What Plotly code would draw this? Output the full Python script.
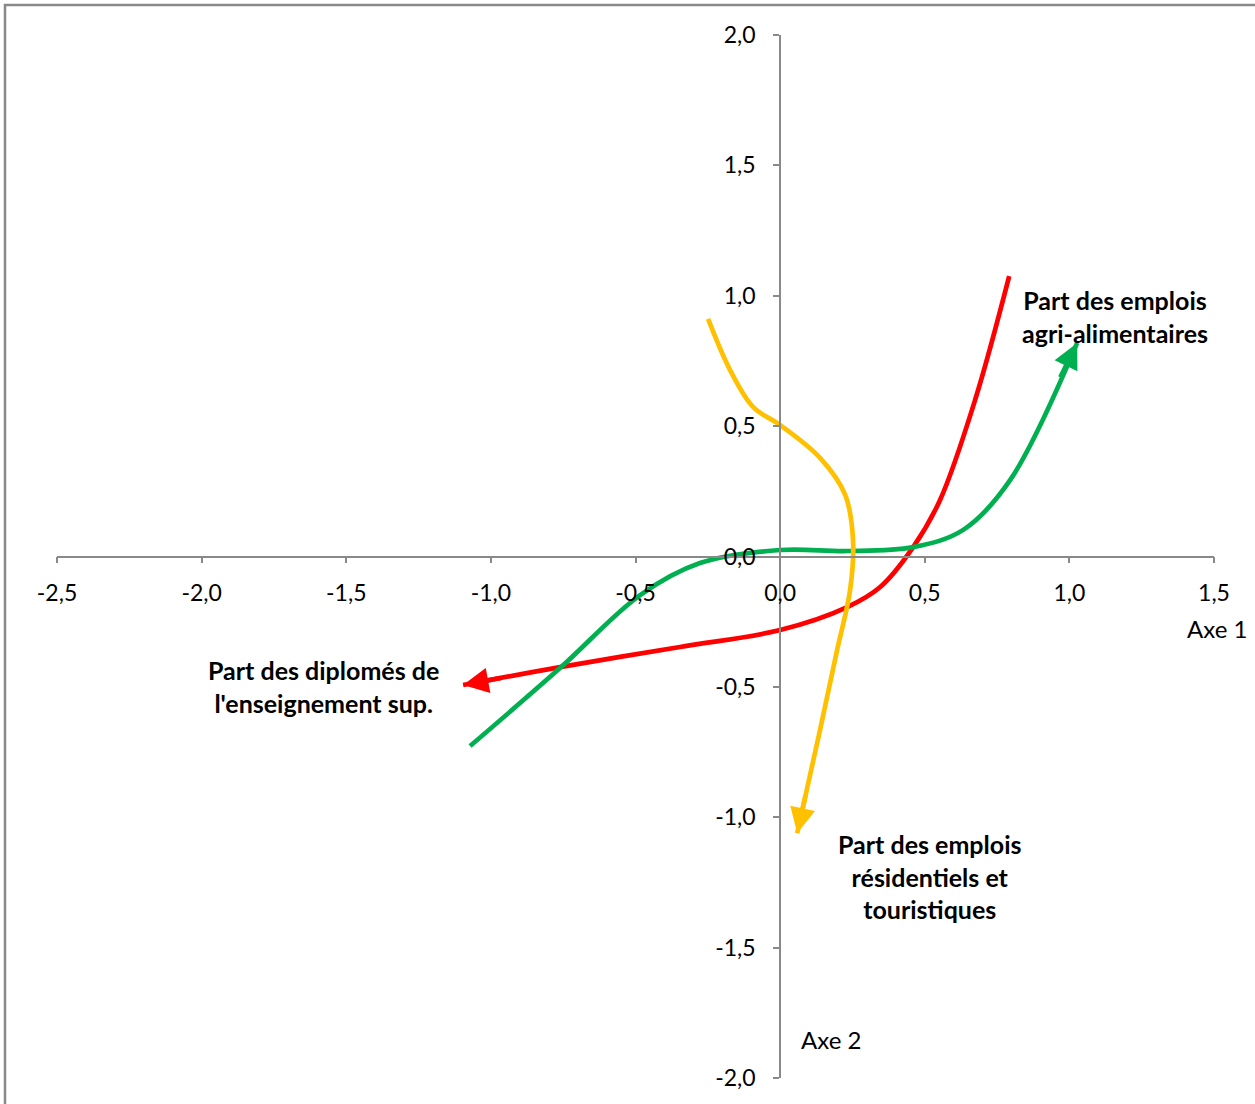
import math
import plotly.graph_objects as go

# Axis ticks
x_ticks = [-2.5, -2.0, -1.5, -1.0, -0.5, 0.0, 0.5, 1.0, 1.5]
y_ticks = [-2.0, -1.5, -1.0, -0.5, 0.0, 0.5, 1.0, 1.5, 2.0]
x_tick_labels = ["-2,5", "-2,0", "-1,5", "-1,0", "-0,5", "0,0", "0,5", "1,0", "1,5"]
y_tick_labels = ["-2,0", "-1,5", "-1,0", "-0,5", "0,0", "0,5", "1,0", "1,5", "2,0"]

# Red: Part des diplomés de l'enseignement sup.
red_x = [0.792, 0.674, 0.553, 0.460, 0.346, 0.232, 0.0, -0.346, -0.761, -1.096]
red_y = [1.075, 0.600, 0.217, 0.036, -0.117, -0.194, -0.282, -0.347, -0.424, -0.493]

# Green: Part des emplois agri-alimentaires
green_x = [-1.072, -0.761, -0.484, -0.277, 0.0, 0.232, 0.460, 0.633, 0.795, 1.027]
green_y = [-0.727, -0.428, -0.148, -0.025, 0.025, 0.021, 0.036, 0.102, 0.293, 0.819]

# Yellow: Part des emplois résidentiels et touristiques
yellow_x = [-0.249, -0.173, -0.093, 0.0, 0.138, 0.225, 0.252, 0.242, 0.197, 0.138, 0.059]
yellow_y = [0.911, 0.715, 0.573, 0.504, 0.378, 0.236, 0.063, -0.128, -0.359, -0.665, -1.061]

series = [
    ("Part des diplomés de l'enseignement sup.", red_x, red_y, "#FF0000"),
    ("Part des emplois agri-alimentaires", green_x, green_y, "#00B050"),
    ("Part des emplois résidentiels et touristiques", yellow_x, yellow_y, "#FFC000"),
]

labels = [
    ("Part des diplomés de<br>l'enseignement sup.", -1.580, -0.499),
    ("Part des emplois<br>agri-alimentaires", 1.158, 0.922),
    ("Part des emplois<br>résidentiels et<br>touristiques", 0.515, -1.229),
]

W, H = 1255, 1104
ml, mr, mt, mb = 57, 41, 35, 26
pw, ph = W - ml - mr, H - mt - mb
XR = [-2.5, 1.5]
YR = [-2.0, 2.0]
px_x = pw / (XR[1] - XR[0])
px_y = ph / (YR[1] - YR[0])

LW = 4.7
fig = go.Figure()
for name, xs, ys, col in series:
    fig.add_trace(go.Scatter(
        x=xs, y=ys, mode="lines", name=name,
        line=dict(color=col, width=LW, shape="spline", smoothing=1.0),
        showlegend=False, hoverinfo="skip",
    ))
    # arrow head at the end of the curve, oriented along the last segment
    dxp = (xs[-2] - xs[-1]) * px_x
    dyp = -(ys[-2] - ys[-1]) * px_y
    L = math.hypot(dxp, dyp)
    fig.add_annotation(x=xs[-1], y=ys[-1], ax=dxp / L * 40, ay=dyp / L * 40,
                       showarrow=True, arrowhead=2, arrowsize=1.08,
                       arrowwidth=LW, arrowcolor=col, text="")

for text, x, y in labels:
    fig.add_annotation(x=x, y=y, text="<b>" + text + "</b>", showarrow=False,
                       font=dict(family="Lato", size=25, color="black"),
                       align="center")

# axis titles (paper coordinates so they are not hidden outside the range)
fig.add_annotation(xref="paper", yref="paper",
                   x=(1.511 - XR[0]) / (XR[1] - XR[0]),
                   y=(-0.278 - YR[0]) / (YR[1] - YR[0]),
                   xanchor="center", yanchor="middle",
                   text="Axe 1", showarrow=False,
                   font=dict(family="Lato", size=24, color="black"))
fig.add_annotation(x=0.176, y=-1.854, text="Axe 2", showarrow=False,
                   xanchor="center", yanchor="middle",
                   font=dict(family="Lato", size=24, color="black"))

# outer border
fig.add_shape(type="rect", xref="paper", yref="paper",
              x0=(5 - ml) / pw, x1=(W + 20 - ml) / pw,
              y0=-(mb + 20) / ph, y1=1 + (mt - 5) / ph,
              line=dict(color="#898989", width=2.5), fillcolor="rgba(0,0,0,0)")

axis_common = dict(showgrid=False, zeroline=False, showline=True,
                   linecolor="#898989", linewidth=1.8, ticks="outside",
                   ticklen=6, tickcolor="#898989", tickwidth=1.5,
                   tickfont=dict(family="Lato", size=23, color="black"),
                   anchor="free")

fig.update_layout(
    width=W, height=H,
    margin=dict(l=ml, r=mr, t=mt, b=mb),
    paper_bgcolor="white", plot_bgcolor="white",
    xaxis=dict(range=XR, tickvals=x_ticks, ticktext=x_tick_labels,
               position=0.5, ticklabelstandoff=10, **axis_common),
    yaxis=dict(range=YR, tickvals=y_ticks, ticktext=y_tick_labels,
               position=(0 - XR[0]) / (XR[1] - XR[0]), ticklabelstandoff=13,
               **axis_common),
)

fig.write_html("out.html", config={"displayModeBar": False},
               post_script="document.body.style.margin='0';")
